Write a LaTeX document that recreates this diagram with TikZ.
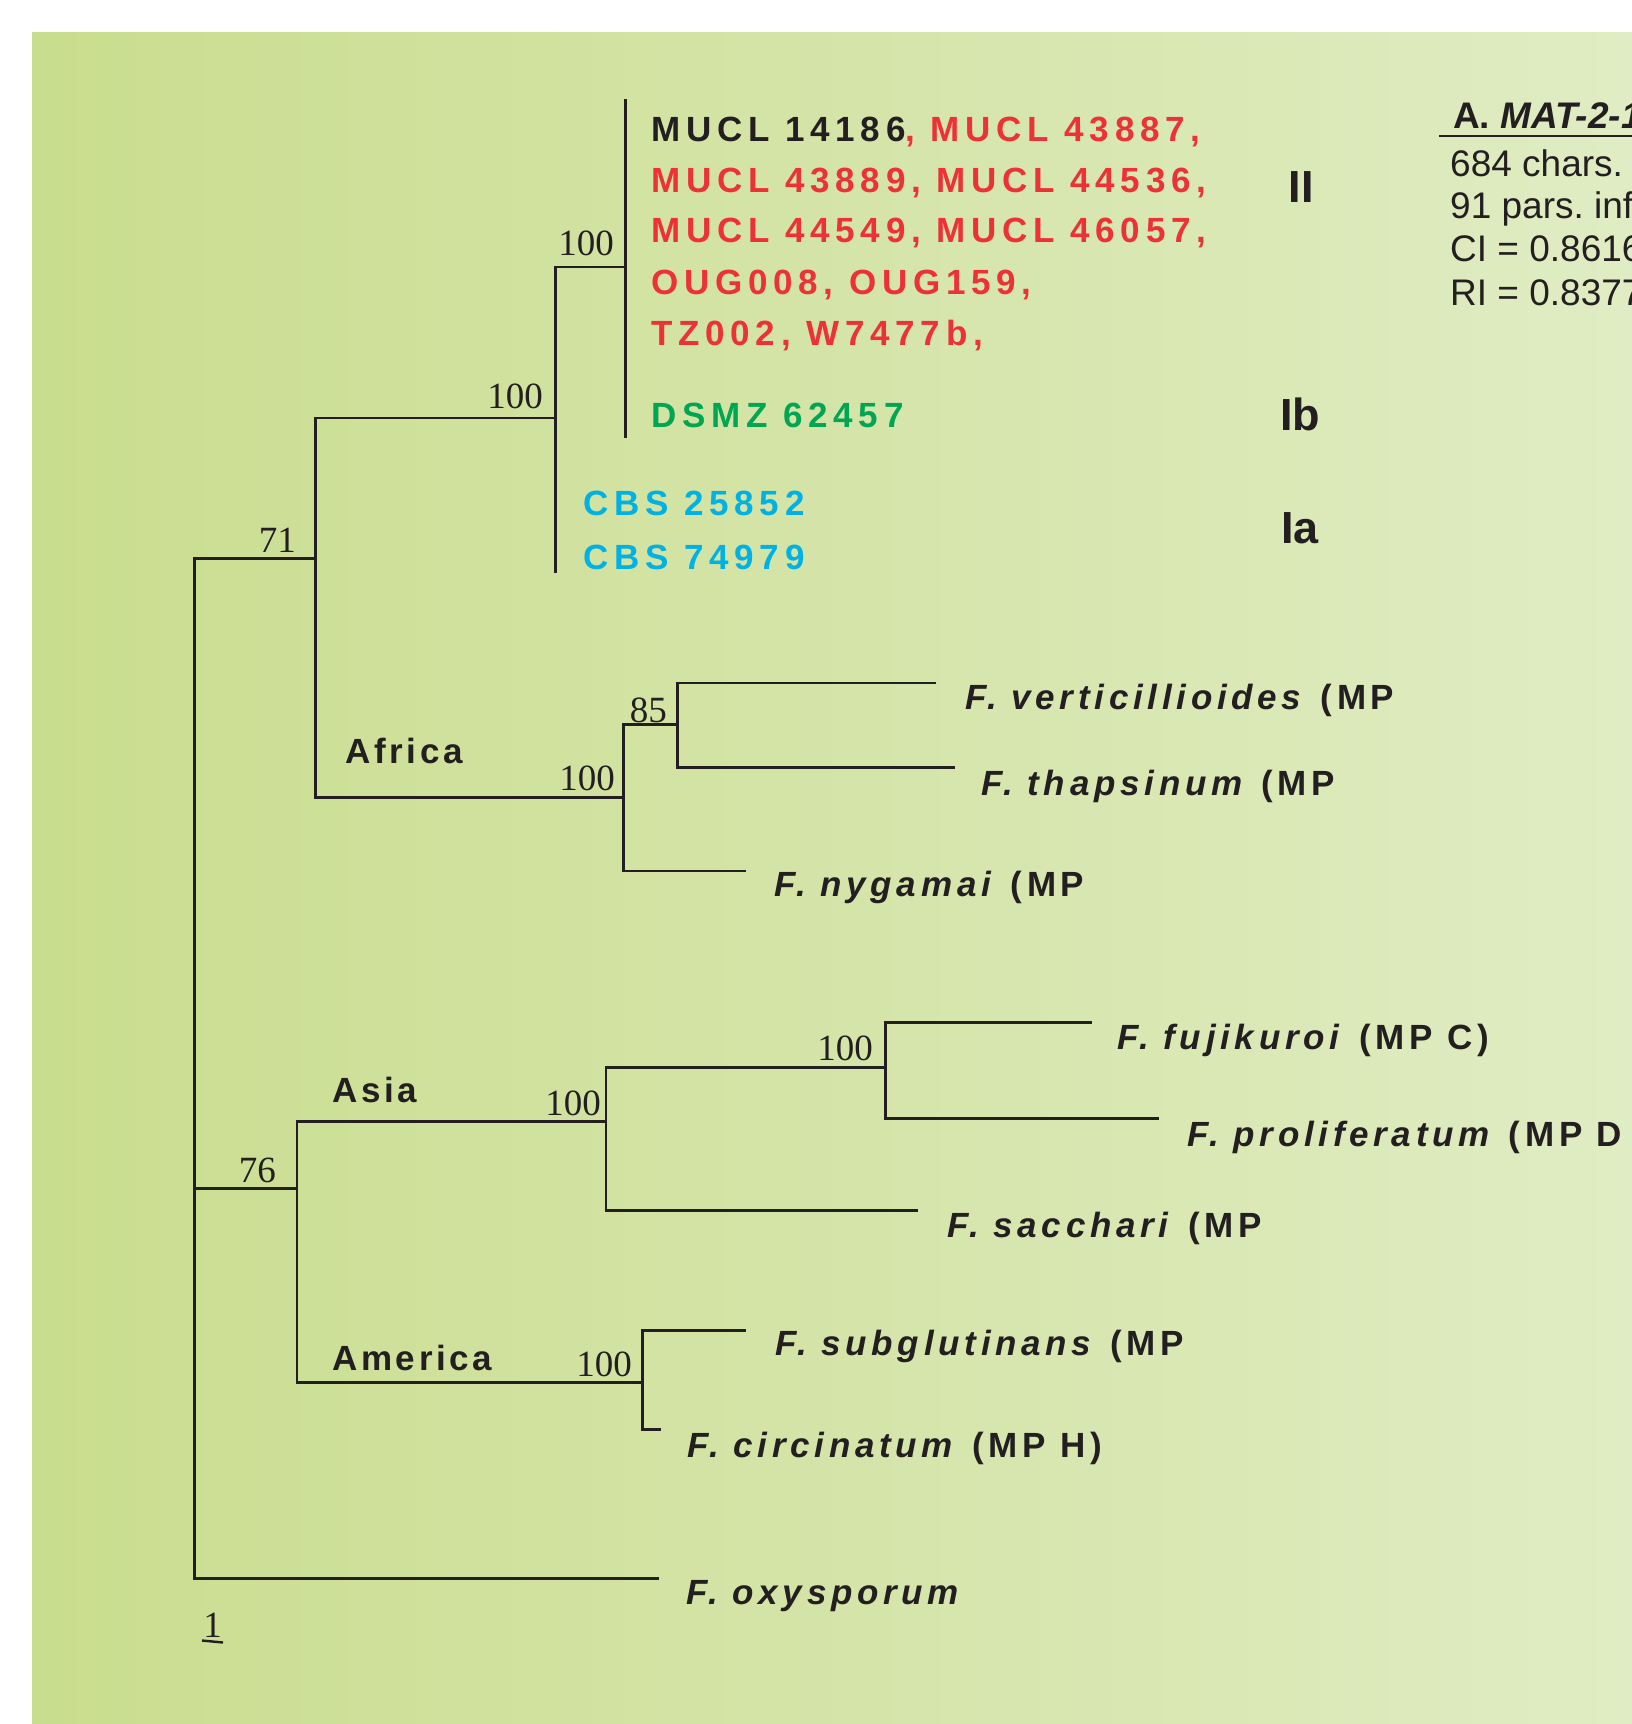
\documentclass[tikz,border=0pt]{standalone}
\usepackage{fontspec}
\newfontfamily\strainfont[LetterSpace=16.5]{Liberation Sans}
\newfontfamily\taxfont[LetterSpace=10.5]{Liberation Sans}
\newfontfamily\specfont[LetterSpace=13.5]{Liberation Sans}
\newfontfamily\plainsans{Liberation Sans}
\newfontfamily\numfont{Liberation Serif}
\definecolor{bgL}{RGB}{201,221,142}
\definecolor{bgR}{RGB}{224,236,195}
\definecolor{ink}{RGB}{35,31,32}
\definecolor{strred}{RGB}{237,50,55}
\definecolor{strgreen}{RGB}{0,166,81}
\definecolor{strcyan}{RGB}{0,178,227}
\tikzset{
  branch/.style={draw=ink, line width=2.7pt},
  strain/.style={anchor=base west, inner sep=0pt, font={\strainfont\bfseries\fontsize{35}{40}\selectfont}},
  taxon/.style={anchor=base west, inner sep=0pt, text=ink, font={\taxfont\bfseries\fontsize{35}{40}\selectfont}},
  species/.style={anchor=base west, inner sep=0pt, text=ink, font={\specfont\bfseries\fontsize{35}{40}\selectfont}},
  supp/.style={anchor=base east, inner sep=0pt, text=ink, font={\numfont\fontsize{37}{40}\selectfont}},
  grouplab/.style={anchor=base, inner sep=0pt, text=ink, font={\plainsans\bfseries\fontsize{45}{50}\selectfont}},
  info/.style={anchor=base west, inner sep=0pt, text=ink, font={\plainsans\fontsize{37}{42}\selectfont}}
}
\frenchspacing
\begin{document}
\begin{tikzpicture}[x=1pt,y=-1pt]
\useasboundingbox (0,0) rectangle (1632,1724);
\clip (0,0) rectangle (1632,1724);
\fill[white] (0,0) rectangle (1632,1724);
\shade[left color=bgL, right color=bgR] (32,32) rectangle (1632,1724);

% tree coordinates
\coordinate (root) at (194.5,1188.8);
\coordinate (n71) at (315.6,558.6);
\coordinate (nA) at (555.3,417.9);
\coordinate (nB) at (625.7,267);
\coordinate (tB1) at (625.7,99);
\coordinate (tB2) at (625.7,438);
\coordinate (tA) at (555.3,572.5);
\coordinate (naf) at (623.3,797.3);
\coordinate (n85) at (677.6,724.7);
\coordinate (lver) at (935.8,682.9);
\coordinate (ltha) at (954.5,767.6);
\coordinate (lnyg) at (745.6,871);
\coordinate (n76) at (296.9,1188.8);
\coordinate (nas) at (605.9,1121.7);
\coordinate (nfp) at (885.3,1067.8);
\coordinate (lfuj) at (1092,1022.7);
\coordinate (lpro) at (1159.1,1118.4);
\coordinate (lsac) at (918.3,1210.8);
\coordinate (nam) at (642.2,1382.3);
\coordinate (lsub) at (745.6,1330.6);
\coordinate (lcir) at (661,1429.6);
\coordinate (loxy) at (658.7,1578.5);

% branches
\draw[branch] (root) |- (n71);
\draw[branch] (root) -- (n76);
\draw[branch] (root) |- (loxy);
\draw[branch] (n71) |- (nA);
\draw[branch] (n71) |- (naf);
\draw[branch] (nA) |- (nB);
\draw[branch] (nA) -- (tA);
\draw[branch] (nB) -- (tB1);
\draw[branch] (nB) -- (tB2);
\draw[branch] (naf) |- (n85);
\draw[branch] (naf) |- (lnyg);
\draw[branch] (n85) |- (lver);
\draw[branch] (n85) |- (ltha);
\draw[branch] (n76) |- (nas);
\draw[branch] (n76) |- (nam);
\draw[branch] (nas) |- (nfp);
\draw[branch] (nas) |- (lsac);
\draw[branch] (nfp) |- (lfuj);
\draw[branch] (nfp) |- (lpro);
\draw[branch] (nam) |- (lsub);
\draw[branch] (nam) |- (lcir);

% support values
\node[supp] (s71) at (296,552) {71};
\node[supp] (sA) at (543,408) {100};
\node[supp] (sB) at (614,255) {100};
\node[supp] (saf) at (615,790) {100};
\node[supp] (s85) at (667,722) {85};
\node[supp] (s76) at (276,1182) {76};
\node[supp] (sas) at (601,1115) {100};
\node[supp] (sfp) at (873,1060) {100};
\node[supp] (sam) at (632,1376) {100};

% strain labels
\node[strain] (m1) at (651,141) {\textcolor{ink}{MUCL 14186}\textcolor{strred}{, MUCL 43887,}};
\node[strain, text=strred] (m2) at (651,192) {MUCL 43889, MUCL 44536,};
\node[strain, text=strred] (m3) at (651,242) {MUCL 44549, MUCL 46057,};
\node[strain, text=strred] (m4) at (651,294) {OUG008, OUG159,};
\node[strain, text=strred] (m5) at (651,345) {TZ002, W7477b,};
\node[strain, text=strgreen] (ds) at (651,427) {DSMZ 62457};
\node[strain, text=strcyan] (c1) at (583,515) {CBS 25852};
\node[strain, text=strcyan] (c2) at (583,569) {CBS 74979};

% group labels
\node[grouplab] (gII) at (1301,202) {II};
\node[grouplab] (gIb) at (1300,430) {Ib};
\node[grouplab] (gIa) at (1300,543) {Ia};

% clade names
\node[taxon] (kaf) at (345,763) {Africa};
\node[taxon] (kas) at (332,1102) {Asia};
\node[taxon] (kam) at (332,1370) {America};

% species
\node[species] (tver) at (965,709) {\textit{F. verticillioides} (MP};
\node[species] (ttha) at (981,795) {\textit{F. thapsinum} (MP};
\node[species] (tnyg) at (774,896) {\textit{F. nygamai} (MP};
\node[species] (tfuj) at (1117,1049) {\textit{F. fujikuroi} (MP C)};
\node[species] (tpro) at (1187,1146) {\textit{F. proliferatum} (MP D};
\node[species] (tsac) at (947,1237) {\textit{F. sacchari} (MP};
\node[species] (tsub) at (775,1355) {\textit{F. subglutinans} (MP};
\node[species] (tcir) at (687,1457) {\textit{F. circinatum} (MP H)};
\node[species] (toxy) at (686,1604) {\textit{F. oxysporum}};

% info block
\node[info] (ititle) at (1453,128) {\textbf{A. \textit{MAT-2-1}}};
\coordinate (ul1) at (1439,136);
\coordinate (ul2) at (1640,136);
\draw[ink, line width=2.7pt] (ul1) -- (ul2);
\node[info] (i1) at (1450,176) {684 chars.};
\node[info] (i2) at (1450,218) {91 pars. inf};
\node[info] (i3) at (1450,261) {CI = 0.8616};
\node[info] (i4) at (1450,305) {RI = 0.8377};

% scale
\node[supp, anchor=base] (sc) at (212.5,1637) {1};
\coordinate (sb1) at (202,1640.5);
\coordinate (sb2) at (223,1642.5);
\draw[ink, line width=2.4pt] (sb1) -- (sb2);
\end{tikzpicture}
\end{document}
